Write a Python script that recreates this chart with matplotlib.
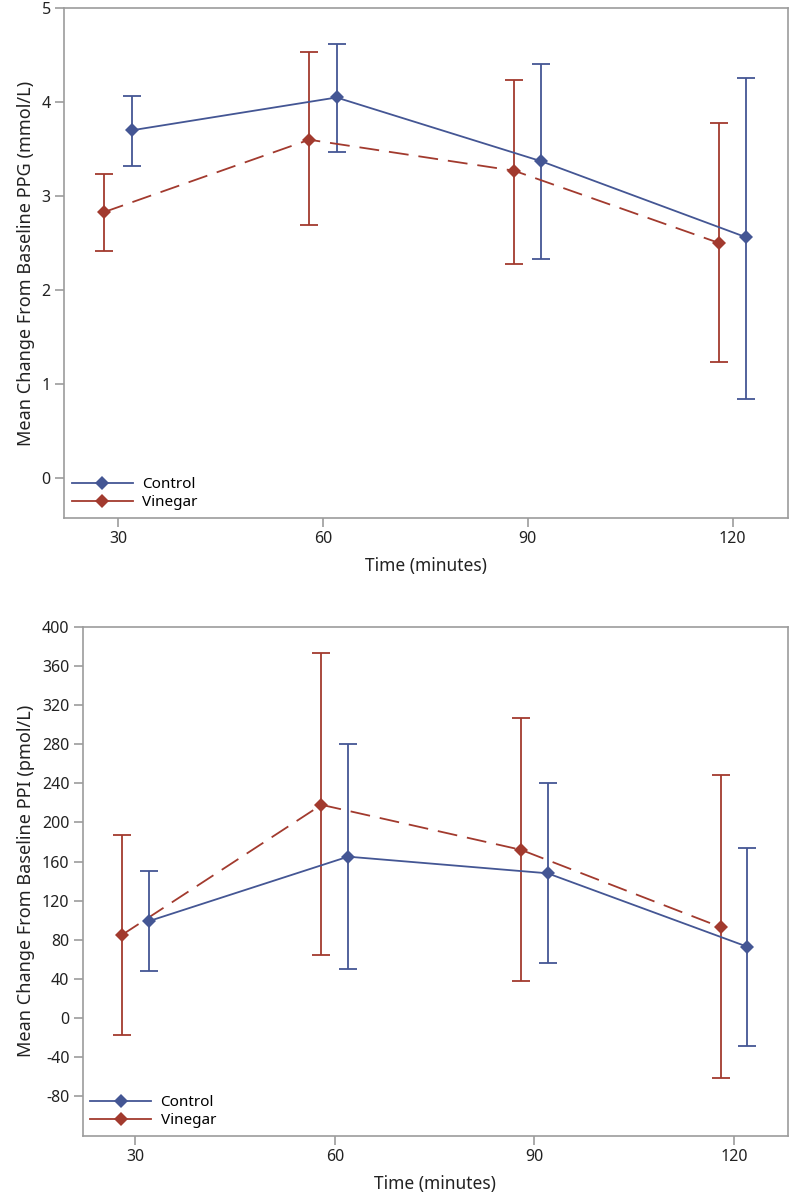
import numpy as np
import matplotlib
matplotlib.use("Agg")
from matplotlib import pyplot as plt
from matplotlib.lines import Line2D

# data
times = [30, 60, 90, 120]

ppg_control = [3.70, 4.05, 3.37, 2.56]
ppg_control_lo = [3.32, 3.47, 2.33, 0.84]
ppg_control_hi = [4.07, 4.62, 4.41, 4.26]
ppg_vinegar = [2.83, 3.60, 3.27, 2.50]
ppg_vinegar_lo = [2.42, 2.69, 2.28, 1.23]
ppg_vinegar_hi = [3.24, 4.53, 4.24, 3.78]

ppi_control = [99, 165, 148, 73]
ppi_control_lo = [48, 50, 56, -28]
ppi_control_hi = [150, 280, 240, 174]
ppi_vinegar = [85, 218, 172, 93]
ppi_vinegar_lo = [-17, 64, 38, -61]
ppi_vinegar_hi = [187, 373, 307, 248]

BLUE = "#445694"
RED = "#A23A2E"
GREY = "#9C9C9C"

plt.rcParams['font.family'] = ['Noto Sans', 'DejaVu Sans']
plt.rcParams['axes.unicode_minus'] = False

fig = plt.figure(figsize=(7.92, 12.02), dpi=100)
ax1 = fig.add_axes([0.0808, 0.569, 0.995 - 0.0808, 0.9931 - 0.569])
ax2 = fig.add_axes([0.1044, 0.0549, 0.9946 - 0.1044, 0.4786 - 0.0549])


def panel(ax, ctl, ctl_lo, ctl_hi, vin, vin_lo, vin_hi, ylabel):
    t = np.array(times, dtype=float)
    tc = t + 2  # control shifted right
    tv = t - 2  # vinegar shifted left
    ctl = np.array(ctl); vin = np.array(vin)
    ax.errorbar(tv, vin, yerr=[vin - np.array(vin_lo), np.array(vin_hi) - vin],
                fmt='none', ecolor=RED, elinewidth=1.3, capsize=6.5, capthick=1.3, zorder=2)
    ax.errorbar(tc, ctl, yerr=[ctl - np.array(ctl_lo), np.array(ctl_hi) - ctl],
                fmt='none', ecolor=BLUE, elinewidth=1.3, capsize=6.5, capthick=1.3, zorder=2)
    ax.plot(tv, vin, color=RED, lw=1.3, dashes=(11, 5.5), marker='D', ms=7,
            markeredgewidth=0, zorder=3)
    ax.plot(tc, ctl, color=BLUE, lw=1.3, marker='D', ms=7,
            markeredgewidth=0, zorder=4)

    ax.set_xlim(22.1, 128.1)
    ax.set_xticks(times)
    ax.set_xlabel("Time (minutes)", fontsize=12.5, color="#222222", labelpad=7)
    ax.set_ylabel(ylabel, fontsize=13, color="#222222", labelpad=5)
    for s in ax.spines.values():
        s.set_color(GREY)
        s.set_linewidth(1.2)
    ax.tick_params(direction='out', length=6.5, width=1.2, color=GREY,
                   labelsize=11.5, labelcolor="#222222", pad=3)

    handles = [Line2D([], [], color=BLUE, lw=1.3, marker='D', ms=7, markeredgewidth=0),
               Line2D([], [], color=RED, lw=1.3, marker='D', ms=7, markeredgewidth=0)]
    ax.legend(handles, ["Control", "Vinegar"], loc='lower left', frameon=False,
              fontsize=11, handlelength=4.0, handletextpad=0.6, labelspacing=0.2,
              borderaxespad=0.2, borderpad=0.3)


panel(ax1, ppg_control, ppg_control_lo, ppg_control_hi,
      ppg_vinegar, ppg_vinegar_lo, ppg_vinegar_hi,
      "Mean Change From Baseline PPG (mmol/L)")
ax1.set_ylim(-0.43, 5)
ax1.set_yticks([0, 1, 2, 3, 4, 5])

panel(ax2, ppi_control, ppi_control_lo, ppi_control_hi,
      ppi_vinegar, ppi_vinegar_lo, ppi_vinegar_hi,
      "Mean Change From Baseline PPI (pmol/L)")
ax2.set_ylim(-120.5, 400)
ax2.set_yticks(np.arange(-80, 401, 40))

fig.savefig("out.png", dpi=100)
